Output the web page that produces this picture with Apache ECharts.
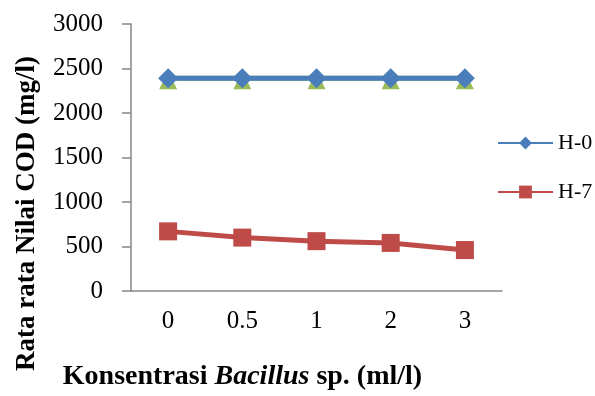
<!DOCTYPE html>
<html>
<head>
<meta charset="utf-8">
<script src="https://cdn.jsdelivr.net/npm/echarts@6/dist/echarts.min.js"></script>
<style>
  html, body { margin: 0; padding: 0; background: #fff; }
  #chart { width: 595px; height: 396px; }
</style>
</head>
<body>
<div id="chart"></div>
<script>
// data
const categories = ['0', '0.5', '1', '2', '3'];
const h0Values = [2390, 2390, 2390, 2390, 2390];
const h7Values = [670, 600, 560, 540, 460];
// green triangles hidden under H-0 (not in the legend)
const hiddenValues = [2390, 2390, 2390, 2390, 2390];
const yTicks = { min: 0, max: 3000, interval: 500 };

const serif = '"Liberation Serif", "DejaVu Serif", serif';

const chart = echarts.init(document.getElementById('chart'));

const option = {
  animation: false,
  backgroundColor: '#fff',
  grid: { left: 131, right: 93, top: 24, bottom: 103 },
  legend: {
    data: ['H-0', 'H-7'],
    orient: 'vertical',
    left: 492,
    top: 127,
    itemWidth: 55,
    itemHeight: 16,
    itemGap: 27,
    textStyle: { fontFamily: serif, fontSize: 22, color: '#000', lineHeight: 22 }
  },
  xAxis: {
    type: 'category',
    data: categories,
    boundaryGap: true,
    axisLine: { lineStyle: { color: '#868686', width: 1.5 } },
    axisTick: { show: false },
    axisLabel: { fontFamily: serif, fontSize: 25, color: '#000', margin: 18 },
    name: '{a|Konsentrasi }{b|Bacillus}{a| sp. (ml/l)}',
    nameLocation: 'middle',
    nameGap: 72,
    nameTextStyle: {
      padding: [0, 148, 0, 0],
      rich: {
        a: { fontFamily: serif, fontSize: 28, fontWeight: 'bold', color: '#000' },
        b: { fontFamily: serif, fontSize: 28, fontWeight: 'bold', fontStyle: 'italic', color: '#000' }
      }
    }
  },
  yAxis: {
    type: 'value',
    min: yTicks.min,
    max: yTicks.max,
    interval: yTicks.interval,
    splitLine: { show: false },
    axisLine: { show: true, lineStyle: { color: '#868686', width: 1.5 } },
    axisTick: { show: true, length: 9, lineStyle: { color: '#868686', width: 1.5 } },
    axisLabel: {
      fontFamily: serif, fontSize: 25, color: '#000', margin: 28,
      formatter: (v) => String(v)
    },
    name: 'Rata rata Nilai COD (mg/l)',
    nameLocation: 'middle',
    nameGap: 90,
    nameTextStyle: {
      fontFamily: serif, fontSize: 27, fontWeight: 'bold', color: '#000',
      padding: [0, 112, 0, 0]
    }
  },
  series: [
    {
      name: 'H-14',
      type: 'line',
      data: hiddenValues,
      symbol: 'triangle',
      symbolSize: 18,
      symbolOffset: [0, 2],
      itemStyle: { color: '#9bbb59' },
      lineStyle: { color: '#9bbb59', width: 5 },
      z: 1
    },
    {
      name: 'H-0',
      type: 'line',
      data: h0Values,
      symbol: 'diamond',
      symbolSize: 20,
      itemStyle: { color: '#4a7ebb' },
      lineStyle: { color: '#4a7ebb', width: 5 },
      z: 3
    },
    {
      name: 'H-7',
      type: 'line',
      data: h7Values,
      symbol: 'rect',
      symbolSize: 18,
      itemStyle: { color: '#be4b48' },
      lineStyle: { color: '#be4b48', width: 5 },
      z: 3
    }
  ]
};

chart.setOption(option);
</script>
</body>
</html>
